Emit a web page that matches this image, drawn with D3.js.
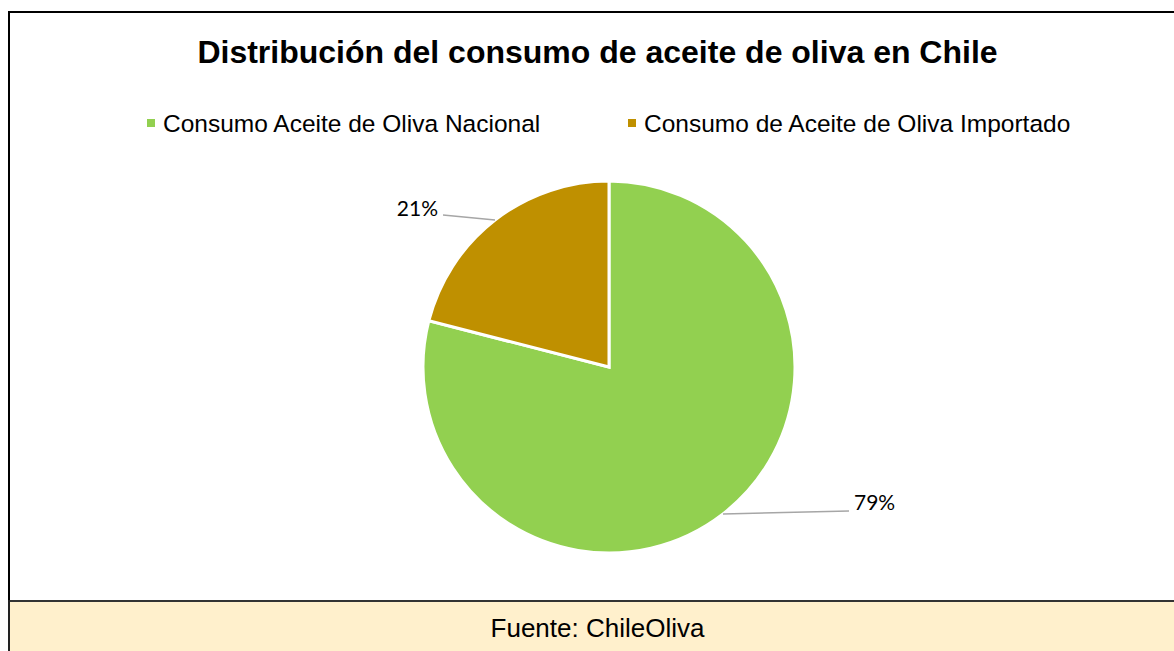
<!DOCTYPE html>
<html><head><meta charset="utf-8">
<script src="https://cdn.jsdelivr.net/npm/d3@7"></script>
<style>html,body{margin:0;padding:0;background:#fff;}svg{display:block;}</style>
</head><body>
<svg id="c" width="1174" height="651"></svg>
<script>
const title = "Distribución del consumo de aceite de oliva en Chile";
const categories = ["Consumo Aceite de Oliva Nacional", "Consumo de Aceite de Oliva Importado"];
const values = [79, 21];
const labels = ["79%", "21%"];
const colors = ["#92D050", "#BF9000"];
const source = "Fuente: ChileOliva";

const svg = d3.select("#c");
const W = 1174, H = 651;
svg.append("rect").attr("x",0).attr("y",0).attr("width",W).attr("height",H).attr("fill","#fff");
// outer border
svg.append("path").attr("d","M9,651 V12 H1174").attr("fill","none").attr("stroke","#000").attr("stroke-width",2);
// footer
svg.append("rect").attr("x",9).attr("y",601).attr("width",W-9).attr("height",50).attr("fill","#FFF0CC");
svg.append("line").attr("x1",9).attr("x2",W).attr("y1",601).attr("y2",601).attr("stroke","#333").attr("stroke-width",2);
svg.append("line").attr("x1",9).attr("x2",9).attr("y1",600).attr("y2",651).attr("stroke","#222").attr("stroke-width",2);
svg.append("text").attr("x",597.5).attr("y",637).attr("text-anchor","middle")
  .attr("font-family","Liberation Sans, Arial, sans-serif").attr("font-size",26).attr("fill","#000").text(source);

// title
svg.append("text").attr("x",597.5).attr("y",63).attr("text-anchor","middle")
  .attr("font-family","Liberation Sans, Arial, sans-serif").attr("font-weight","bold").attr("font-size",32).attr("fill","#000").text(title);

// legend
const legX = [147, 628];
const lg = svg.selectAll("g.leg").data(categories).join("g").attr("class","leg")
  .attr("transform",(d,i)=>`translate(${legX[i]},0)`);
lg.append("rect").attr("x",0).attr("y",119).attr("width",8).attr("height",8).attr("fill",(d,i)=>colors[i]);
lg.append("text").attr("x",16).attr("y",132).attr("font-family","Liberation Sans, Arial, sans-serif")
  .attr("font-size",24.5).attr("fill","#000").text(d=>d);

// pie
const cx = 609, cy = 367, r = 186;
const pie = d3.pie().sort(null).value(d=>d);
const arcs = pie(values);
const arc = d3.arc().innerRadius(0).outerRadius(r);
const g = svg.append("g").attr("transform",`translate(${cx},${cy})`);
g.selectAll("path").data(arcs).join("path").attr("d",arc)
  .attr("fill",(d,i)=>colors[i]).attr("stroke","#fff").attr("stroke-width",3).attr("stroke-linejoin","miter");

// labels with leader lines (start at slice mid-angle on the rim)
const outerPt = d => { const a = (d.startAngle + d.endAngle)/2; return [cx + r*Math.sin(a), cy - r*Math.cos(a)]; };
const lab = [
  {t:labels[0], line:[outerPt(arcs[0]),[849,511]], tx:854, ty:510, anchor:"start"},
  {t:labels[1], line:[[443,215],outerPt(arcs[1])], tx:438, ty:216, anchor:"end"}
];
svg.selectAll("line.ld").data(lab).join("line").attr("class","ld")
  .attr("x1",d=>d.line[0][0]).attr("y1",d=>d.line[0][1]).attr("x2",d=>d.line[1][0]).attr("y2",d=>d.line[1][1])
  .attr("stroke","#A6A6A6").attr("stroke-width",1.5);
svg.selectAll("text.lb").data(lab).join("text").attr("class","lb")
  .attr("x",d=>d.tx).attr("y",d=>d.ty).attr("text-anchor",d=>d.anchor)
  .attr("font-family","Lato, Carlito, Calibri, sans-serif").attr("font-size",21).attr("fill","#000").text(d=>d.t);
</script>
</body></html>
